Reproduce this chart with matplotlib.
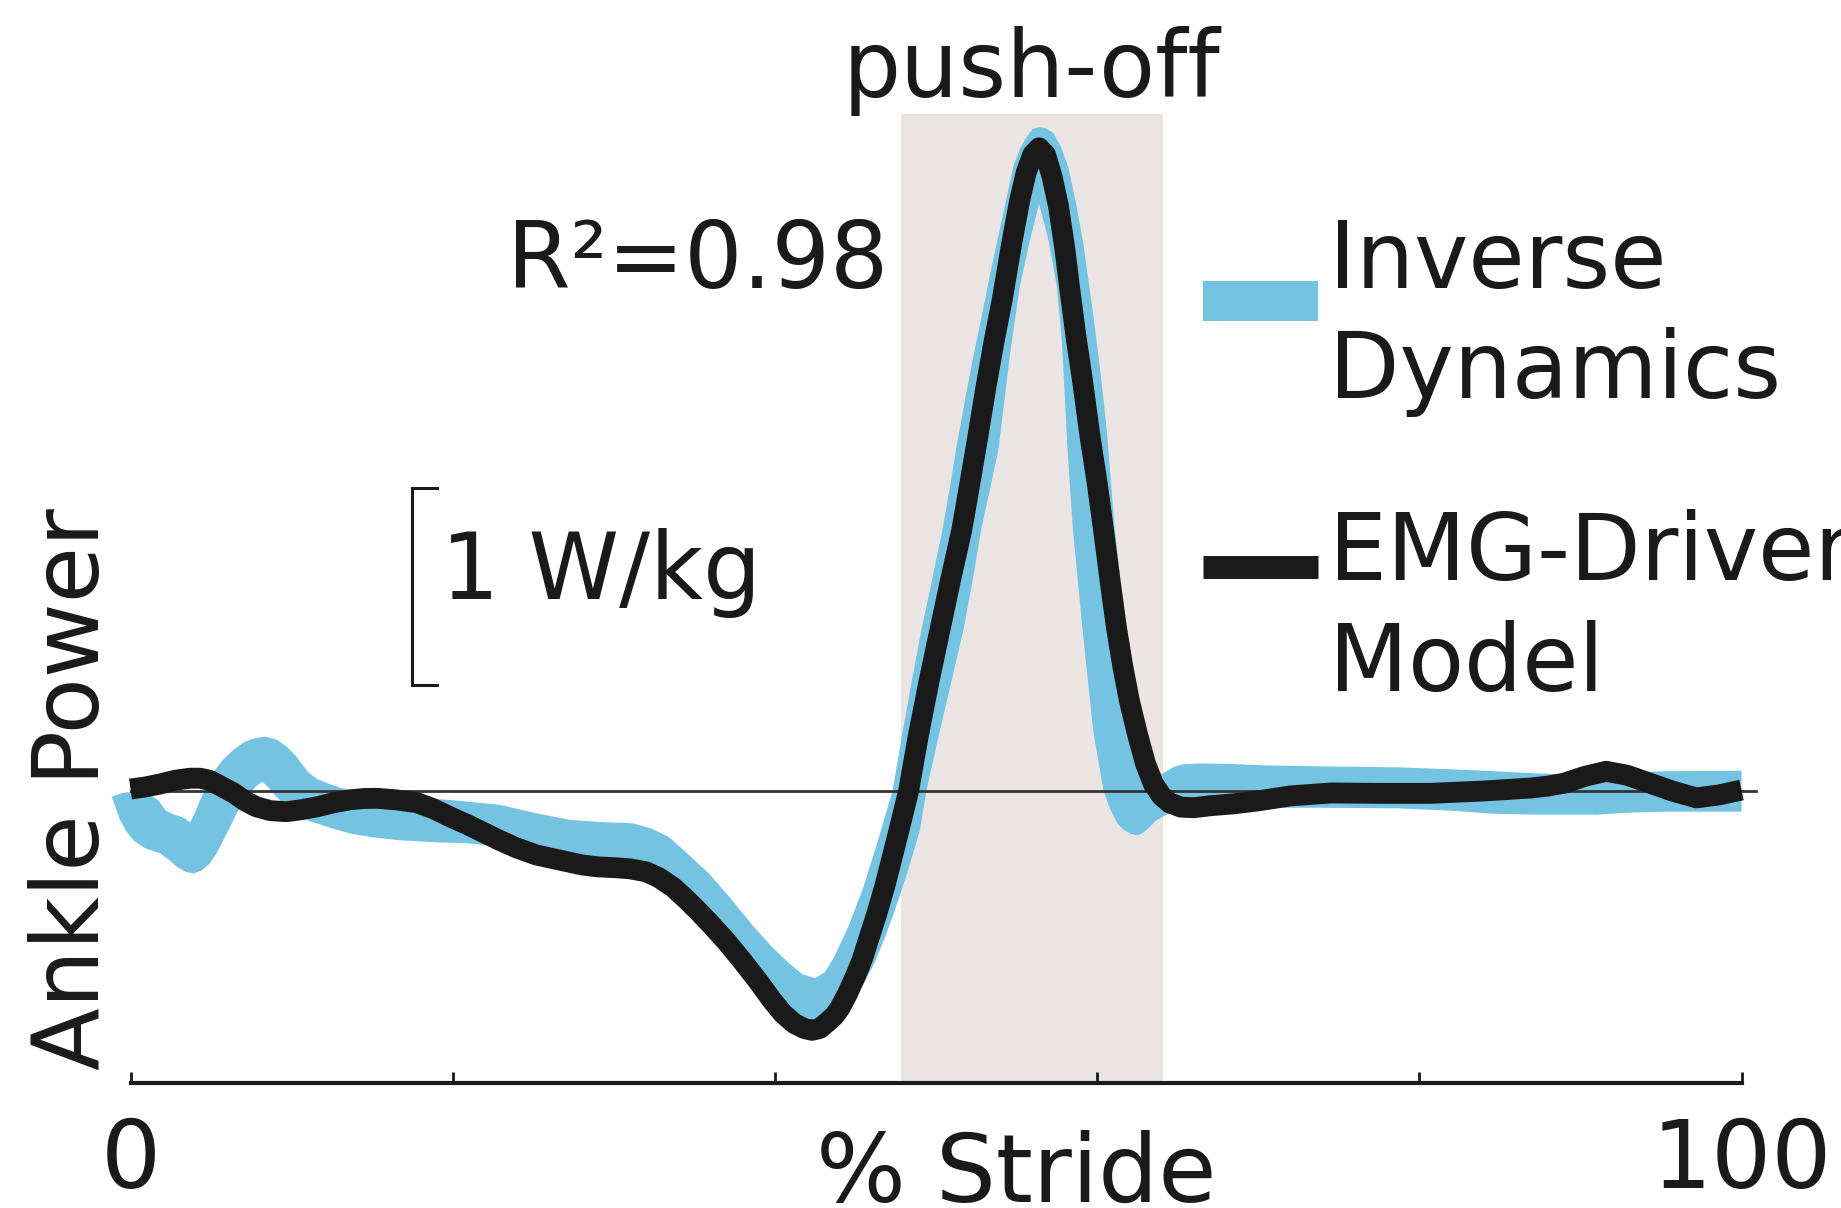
import matplotlib
matplotlib.use("Agg")
import matplotlib.pyplot as plt
from matplotlib.patches import Rectangle
import numpy as np

# EMG-driven model ankle power (W/kg) vs % stride
emg_x = [0.0, 0.9, 1.8, 2.8, 3.7, 4.3, 4.9, 5.6, 6.4, 7.1, 7.8, 8.7, 9.7, 10.6, 11.6, 12.6,
         13.6, 14.5, 15.3, 16.5, 17.8, 18.8, 19.8, 20.9, 21.9, 22.9, 24.0, 25.2, 26.6, 28.0,
         29.0, 30.2, 31.0, 32.0, 32.8, 33.7, 34.5, 35.3, 36.0, 37.0, 38.0, 39.0, 39.8, 40.5,
         41.2, 41.8, 42.3, 42.8, 43.3, 43.7, 44.05, 44.5, 45.0, 45.4, 45.75, 46.3, 46.8,
         47.3, 47.7, 48.3, 48.9, 49.6, 50.25, 50.9, 51.6, 52.1, 52.6, 53.1, 53.6, 54.1, 54.7,
         55.2, 55.6, 56.0, 56.4, 56.8, 57.2, 57.6, 58.0, 58.3, 58.7, 59.1, 59.56, 60.0, 60.4,
         60.8, 61.2, 61.6, 62.0, 62.5, 63.0, 63.5, 64.0, 64.5, 65.2, 66.0, 67.0, 68.5, 70.0,
         72.0, 74.5, 77.5, 80.7, 84.0, 86.9, 88.0, 89.0, 90.3, 91.6, 92.9, 94.3, 95.7, 97.2,
         98.6, 100.0]
emg_y = [0.01, 0.02, 0.035, 0.055, 0.065, 0.065, 0.055, 0.025, -0.01, -0.05, -0.08, -0.1,
         -0.105, -0.095, -0.08, -0.06, -0.045, -0.038, -0.037, -0.045, -0.06, -0.09, -0.13,
         -0.17, -0.21, -0.25, -0.29, -0.325, -0.35, -0.375, -0.385, -0.39, -0.395, -0.41,
         -0.44, -0.49, -0.55, -0.615, -0.675, -0.765, -0.865, -0.97, -1.06, -1.13, -1.18,
         -1.205, -1.215, -1.205, -1.17, -1.14, -1.10, -1.03, -0.94, -0.86, -0.77, -0.63,
         -0.49, -0.33, -0.2, 0.0, 0.28, 0.57, 0.82, 1.07, 1.325, 1.56, 1.80, 2.05, 2.28,
         2.49, 2.78, 3.0, 3.14, 3.23, 3.265, 3.23, 3.12, 2.97, 2.75, 2.55, 2.3, 2.08, 1.80,
         1.565, 1.325, 1.07, 0.83, 0.63, 0.46, 0.29, 0.14, 0.035, -0.025, -0.06, -0.082,
         -0.085, -0.075, -0.065, -0.05, -0.025, -0.01, -0.012, -0.012, 0.0, 0.015, 0.025,
         0.04, 0.075, 0.10, 0.08, 0.04, 0.0, -0.035, -0.02, 0.005]

# inverse dynamics band: upper and lower edges
id_upper_x = [-1.17, -0.5, 0.0, 1.0, 1.7, 2.2, 2.7, 3.1, 3.4, 3.7, 4.0, 4.3, 4.7, 5.1, 5.7, 6.4,
              7.1, 7.8, 8.4, 9.1, 9.7, 10.3, 10.7, 11.1, 11.6, 12.2, 12.9, 13.6, 15.0, 16.7,
              19.8, 22.9, 25.2, 27.3, 29.3, 31.2, 32.3, 33.4, 34.6, 35.9, 37.3, 38.7, 39.8,
              40.9, 41.7, 42.5, 43.1, 43.7, 44.6, 45.5, 46.4, 47.3, 47.95, 48.5, 49.1, 49.75,
              50.4, 50.9, 51.3, 51.8, 52.3, 52.84, 53.3, 53.77, 54.3, 54.8, 55.2, 55.63, 56.0,
              56.4, 56.8, 57.28, 57.75, 58.2, 58.7, 59.14, 59.45, 59.77, 60.1, 60.4, 60.6,
              61.1, 61.8, 62.3, 62.8, 63.2, 63.6, 64.1, 64.7, 65.3, 66.3, 68.0, 70.4, 74.0,
              78.7, 82.0, 84.8, 87.0, 89.0, 92.0, 95.1, 100.0]
id_upper_y = [-0.03, -0.01, -0.005, -0.01, -0.045, -0.10, -0.12, -0.13, -0.14, -0.16, -0.11,
              -0.05, 0.02, 0.09, 0.155, 0.21, 0.25, 0.27, 0.275, 0.26, 0.225, 0.175, 0.13,
              0.09, 0.06, 0.04, 0.02, 0.005, -0.015, -0.03, -0.045, -0.07, -0.113, -0.147,
              -0.158, -0.164, -0.19, -0.232, -0.32, -0.418, -0.55, -0.69, -0.79, -0.876,
              -0.93, -0.95, -0.92, -0.84, -0.68, -0.487, -0.25, 0.0, 0.31, 0.56, 0.82, 1.07,
              1.325, 1.56, 1.76, 1.985, 2.2, 2.41, 2.6, 2.78, 2.98, 3.17, 3.26, 3.32, 3.36,
              3.37, 3.365, 3.34, 3.27, 3.17, 2.98, 2.78, 2.6, 2.41, 2.2, 1.985, 1.833, 1.325,
              0.817, 0.45, 0.22, 0.10, 0.07, 0.09, 0.12, 0.135, 0.14, 0.138, 0.13, 0.125,
              0.12, 0.11, 0.10, 0.09, 0.085, 0.09, 0.10, 0.103]
id_lower_x = [-1.17, -0.9, -0.65, -0.25, 0.17, 0.9, 1.83, 2.4, 2.87, 3.4, 3.9, 4.4, 4.93, 5.35,
              5.76, 6.2, 6.59, 7.0, 7.42, 7.8, 8.18, 8.6, 9.07, 9.8, 10.5, 11.0, 11.56, 12.5,
              13.6, 15.0, 16.7, 18.8, 20.9, 22.9, 24.5, 26.0, 28.0, 30.0, 31.5, 33.0, 34.5,
              36.0, 37.5, 39.5, 40.5, 41.5, 42.5, 43.3, 44.0, 44.8, 45.5, 46.2, 46.8, 47.3,
              47.8, 48.2, 48.6, 49.0, 49.4, 50.25, 51.0, 51.7, 52.3, 52.8, 53.4, 53.87, 54.6,
              55.2, 55.84, 56.4, 56.97, 57.5, 57.8, 58.0, 58.15, 58.5, 59.1, 59.75, 60.4,
              60.8, 61.3, 61.7, 62.1, 62.5, 62.9, 63.3, 63.7, 64.2, 64.6, 65.5, 67.0, 70.4,
              74.0, 78.7, 82.0, 84.5, 86.9, 91.0, 93.0, 95.1, 100.0]
id_lower_y = [-0.03, -0.09, -0.147, -0.205, -0.25, -0.29, -0.316, -0.35, -0.384, -0.41, -0.418,
              -0.405, -0.367, -0.315, -0.25, -0.18, -0.113, -0.06, -0.012, 0.025, 0.047, 0.015,
              -0.03, -0.09, -0.13, -0.15, -0.164, -0.19, -0.215, -0.235, -0.25, -0.26, -0.265,
              -0.283, -0.31, -0.33, -0.36, -0.38, -0.40, -0.45, -0.56, -0.68, -0.82, -1.02,
              -1.10, -1.15, -1.17, -1.16, -1.12, -1.06, -0.98, -0.87, -0.75, -0.64, -0.52,
              -0.42, -0.31, -0.2, 0.0, 0.31, 0.57, 0.817, 1.08, 1.325, 1.55, 1.73, 2.22, 2.56,
              2.80, 2.98, 2.80, 2.56, 2.3, 2.0, 1.75, 1.325, 0.817, 0.31, 0.0, -0.09, -0.17,
              -0.2, -0.218, -0.225, -0.21, -0.18, -0.147, -0.125, -0.11, -0.095, -0.088,
              -0.085, -0.085, -0.088, -0.1, -0.115, -0.12, -0.12, -0.11, -0.105, -0.105]

push_off = (47.81, 64.09)
xticks = [0, 20, 40, 60, 80, 100]
xticklabels = ['0', '', '', '', '', '100']

BLUE = '#74C3E2'
INK = '#1A1A1A'
SHADE = '#EAE5E2'

W, H = 1841, 1208
fig = plt.figure(figsize=(W / 100, H / 100), dpi=100)

# axes placed from pixel measurements: x 0..100 -> 130.5..1741.5 px, y 0 at 791 px, 1 W/kg = 197 px
px_x = 16.11
px_y = 197.0
x0, y0 = 130.5, 791.0
xlim = (-1.6, 101.6)
ylim = ((y0 - 1083) / px_y, (y0 - 114) / px_y)
left = x0 + xlim[0] * px_x
right = x0 + xlim[1] * px_x
ax = fig.add_axes([left / W, (H - 1083) / H, (right - left) / W, (1083 - 114) / H])
ax.set_xlim(*xlim)
ax.set_ylim(*ylim)

ax.axvspan(*push_off, color=SHADE, lw=0, zorder=0)
band_x = np.concatenate([id_upper_x, id_lower_x[::-1]])
band_y = np.concatenate([id_upper_y, id_lower_y[::-1]])
ax.fill(band_x, band_y, color=BLUE, lw=0, zorder=1)
ax.plot([0, 100.9], [0, 0], color='#333333', lw=2, zorder=2, clip_on=False)
ax.plot(emg_x, emg_y, color=INK, lw=15, solid_capstyle='butt', solid_joinstyle='round', zorder=3)

for s in ['top', 'right', 'left']:
    ax.spines[s].set_visible(False)
ax.spines['bottom'].set_bounds(0, 100)
ax.spines['bottom'].set_linewidth(3)
ax.spines['bottom'].set_color(INK)
ax.set_yticks([])
ax.set_xticks(xticks)
ax.set_xticklabels(xticklabels, fontsize=68, color=INK)
ax.tick_params(axis='x', direction='in', length=8, width=2, color=INK, pad=24)

fs = 66
ax.text(55.0, -2.085, '% Stride', fontsize=68, color=INK, ha='center', va='baseline', clip_on=False)
ax.text(-1.955, 0.01, 'Ankle Power', fontsize=fs, color=INK, rotation=90, rotation_mode='anchor',
        ha='center', va='baseline', clip_on=False)
ax.text(55.9, 3.524, 'push-off', fontsize=fs, color=INK, ha='center', va='baseline', clip_on=False)
ax.text(23.4, 2.553, 'R\u00b2=0.98', fontsize=fs, color=INK, ha='left', va='baseline')

# 1 W/kg scale bar
ax.plot([19.04, 17.49, 17.49, 19.04], [1.537, 1.537, 0.537, 0.537], color=INK, lw=2.2,
        solid_joinstyle='miter')
ax.text(19.3, 0.977, '1 W/kg', fontsize=fs, color=INK, ha='left', va='baseline')

# legend drawn by hand
ax.add_patch(Rectangle((66.58, 2.386), 7.13, 0.203, color=BLUE, lw=0, clip_on=False))
ax.plot([66.58, 73.71], [1.135, 1.135], color=INK, lw=16.5, solid_capstyle='butt', clip_on=False)
ax.text(74.4, 2.555, 'Inverse', fontsize=fs, color=INK, ha='left', va='baseline', clip_on=False)
ax.text(74.4, 1.997, 'Dynamics', fontsize=fs, color=INK, ha='left', va='baseline', clip_on=False)
ax.text(74.4, 1.071, 'EMG-Driven', fontsize=fs, color=INK, ha='left', va='baseline', clip_on=False)
ax.text(74.4, 0.510, 'Model', fontsize=fs, color=INK, ha='left', va='baseline', clip_on=False)

fig.savefig('out.png', dpi=100)
